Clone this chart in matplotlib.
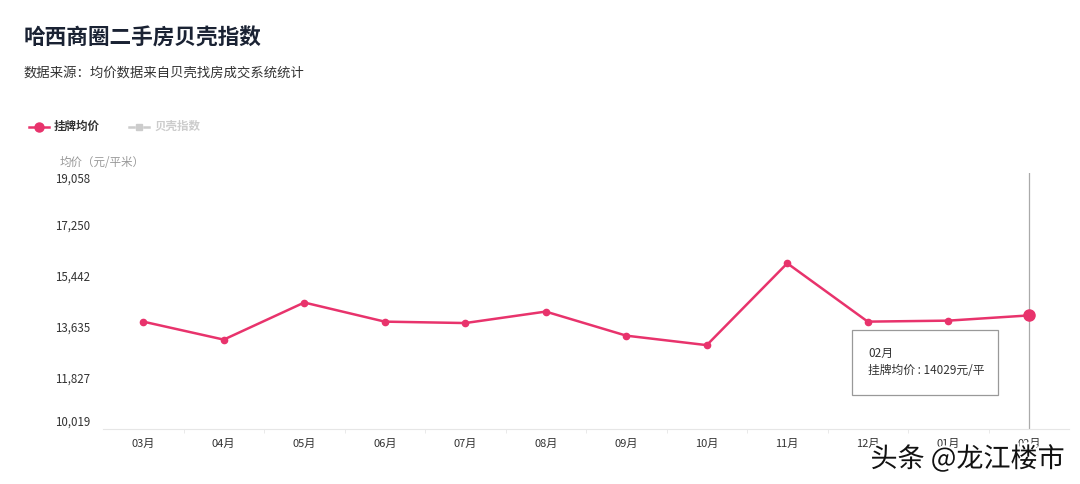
import matplotlib
matplotlib.use("Agg")
import matplotlib.pyplot as plt
import matplotlib.patheffects as pe
from matplotlib.patches import Rectangle
from matplotlib.lines import Line2D

plt.rcParams['font.family'] = ['Noto Sans CJK SC', 'DejaVu Sans']

# 数据
months = ["03月", "04月", "05月", "06月", "07月", "08月", "09月", "10月", "11月", "12月", "01月", "02月"]
avg_price = [13810, 13175, 14485, 13810, 13760, 14165, 13315, 12980, 15870, 13810, 13845, 14029]
y_ticks = [10019, 11827, 13635, 15442, 17250, 19058]

pink = "#e8336c"
W, H = 1080, 484

fig = plt.figure(figsize=(W / 100, H / 100), dpi=100)
ax = fig.add_axes([103 / W, 55 / H, 966 / W, 256 / H])

x = list(range(len(months)))
ax.plot(x, avg_price, color=pink, lw=1.8, marker='o', markersize=4.5, zorder=3)
ax.plot(x[-1], avg_price[-1], 'o', color=pink, markersize=8, zorder=4)
# 悬停竖线
ax.axvline(x[-1], color="#aaaaaa", lw=0.9, zorder=2)

ax.set_xlim(-0.5, len(months) - 0.5)
ax.set_ylim(y_ticks[0], y_ticks[-1])
ax.set_xticks(x)
ax.set_xticklabels(months)
ax.set_xticks([i + 0.5 for i in x[:-1]], minor=True)
ax.tick_params(axis='x', which='major', length=0, pad=7, labelsize=8, labelcolor="#333333")
ax.tick_params(axis='x', which='minor', length=3, color="#e6e6e6", direction='out')
ax.set_yticks(y_ticks)
ax.set_yticklabels([f"{v:,}" for v in y_ticks])
ax.tick_params(axis='y', length=0, pad=9, labelsize=8.3, labelcolor="#333333")
labels = ax.get_yticklabels()
labels[0].set_va('bottom')
labels[-1].set_va('top')

for s in ['top', 'right', 'left']:
    ax.spines[s].set_visible(False)
ax.spines['bottom'].set_color("#e6e6e6")

# 标题
fig.text(24 / W, 1 - 38 / H, "哈西商圈二手房贝壳指数", fontsize=15.6, fontweight='bold',
         color="#1a2233", va='center', ha='left')
fig.text(24 / W, 1 - 73 / H, "数据来源：均价数据来自贝壳找房成交系统统计", fontsize=9.6,
         color="#333333", va='center', ha='left')

# 图例
ly = 1 - 127 / H
for x0, x1 in [(29, 34), (44, 49)]:
    fig.add_artist(Line2D([x0 / W, x1 / W], [ly, ly], color=pink, lw=1.8))
fig.add_artist(Line2D([39 / W], [ly], color=pink, marker='o', markersize=6.5))
fig.text(54 / W, 1 - 126 / H, "挂牌均价", fontsize=8.3, fontweight='bold', color="#333333", va='center')
for x0, x1 in [(129, 134), (144, 149)]:
    fig.add_artist(Line2D([x0 / W, x1 / W], [ly, ly], color="#cccccc", lw=1.8))
fig.add_artist(Line2D([139 / W], [ly], color="#cccccc", marker='s', markersize=5))
fig.text(154 / W, 1 - 126 / H, "贝壳指数", fontsize=8.3, fontweight='bold', color="#cccccc", va='center')

# 纵轴名称
fig.text(60 / W, 1 - 162 / H, "均价（元/平米）", fontsize=8.3, color="#999999", va='center')

# 提示框
fig.add_artist(Rectangle((852 / W, 1 - 395 / H), 146 / W, 65 / H, transform=fig.transFigure,
                         facecolor='white', edgecolor="#999999", lw=0.9, zorder=5))
fig.text(868 / W, 1 - 353 / H, months[-1], fontsize=8.5, color="#333333", va='center', zorder=6)
fig.text(868 / W, 1 - 371 / H, f"挂牌均价 : {avg_price[-1]}元/平", fontsize=8.5, color="#333333",
         va='center', zorder=6)

# 水印
fig.text(1065 / W, 1 - 459 / H, "头条 @龙江楼市", fontsize=19.5, color="#111111", ha='right', va='center',
         zorder=7, path_effects=[pe.withStroke(linewidth=3, foreground='white')])

fig.savefig("out.png", dpi=100)
